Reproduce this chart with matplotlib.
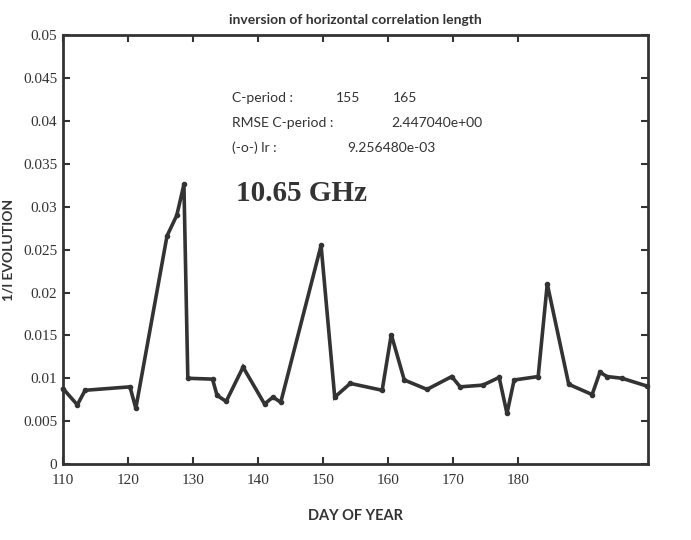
import matplotlib
matplotlib.use("Agg")
import matplotlib.pyplot as plt

# Day of year and inverse correlation length estimates
days = [110, 112.2, 113.4, 120.3, 121.2, 126.0, 127.5, 128.6, 129.2, 133.0,
        133.7, 135.1, 137.7, 141.0, 142.3, 143.5, 149.7, 151.8, 154.2, 159.1,
        160.5, 162.5, 166.0, 169.8, 171.1, 174.6, 177.1, 178.3, 179.4, 183.1,
        184.5, 187.8, 191.4, 192.6, 193.7, 196.0, 199.8]
values = [0.0088, 0.0069, 0.0086, 0.0090, 0.0065, 0.0266, 0.0290, 0.0326, 0.0100, 0.0099,
          0.0080, 0.0073, 0.0113, 0.0070, 0.0078, 0.0072, 0.0255, 0.0078, 0.0094, 0.0086,
          0.0151, 0.0098, 0.0087, 0.0102, 0.0090, 0.0092, 0.0101, 0.0059, 0.0098, 0.0102,
          0.0210, 0.0093, 0.0081, 0.0107, 0.0102, 0.0100, 0.0091]

x_ticks = [110, 120, 130, 140, 150, 160, 170, 180]
y_ticks = [0, 0.005, 0.01, 0.015, 0.02, 0.025, 0.03, 0.035, 0.04, 0.045, 0.05]
y_tick_labels = ["0", "0.005", "0.01", "0.015", "0.02", "0.025", "0.03",
                 "0.035", "0.04", "0.045", "0.05"]

period = ("155", "165")
rmse_text = "2.447040e+00"
lr_text = "9.256480e-03"
band = "10.65 GHz"

ink = "#333333"
serif = ["Liberation Serif", "DejaVu Serif"]
sans = ["Lato", "DejaVu Sans"]

fig = plt.figure(figsize=(6.91, 5.40), dpi=100)
ax = fig.add_axes([0.0912, 0.1407, 0.8466, 0.794])

ax.plot(days, values, color=ink, linewidth=2.6, marker="o", markersize=3,
        solid_joinstyle="miter", clip_on=False)

ax.set_xlim(110, 200)
ax.set_ylim(0, 0.05)
ax.set_xticks(x_ticks)
ax.set_xticklabels([str(t) for t in x_ticks], fontfamily=serif, fontsize=11, color=ink)
ax.set_yticks(y_ticks)
ax.set_yticklabels(y_tick_labels, fontfamily=serif, fontsize=11, color=ink)
ax.tick_params(direction="in", length=5, width=1.5, color=ink,
               top=True, right=True)
ax.tick_params(axis="x", pad=7)
ax.tick_params(axis="y", pad=4)
for sp in ax.spines.values():
    sp.set_linewidth(2.0)
    sp.set_color(ink)

ax.set_title("inversion of horizontal correlation length", fontfamily=sans,
             fontsize=10, fontweight="bold", color=ink, pad=8)
ax.set_xlabel("DAY OF YEAR", fontfamily=sans, fontsize=10.5, fontweight="bold",
              color=ink, labelpad=16)
ax.set_ylabel("1/l EVOLUTION", fontfamily=sans, fontsize=10, fontweight="bold",
              color=ink, labelpad=6)

txt = dict(fontfamily=sans, fontsize=10, color=ink, va="center")
ax.text(136.0, 0.0427, "C-period :", **txt)
ax.text(152.0, 0.0427, period[0], **txt)
ax.text(160.8, 0.0427, period[1], **txt)
ax.text(136.0, 0.0398, "RMSE C-period :", **txt)
ax.text(160.5, 0.0398, rmse_text, **txt)
ax.text(136.0, 0.0369, "(-o-) lr :", **txt)
ax.text(153.8, 0.0369, lr_text, **txt)
ax.text(136.6, 0.0316, band, fontfamily=serif, fontsize=21, fontweight="bold",
        color=ink, va="center")

fig.savefig("out.png", dpi=100)
